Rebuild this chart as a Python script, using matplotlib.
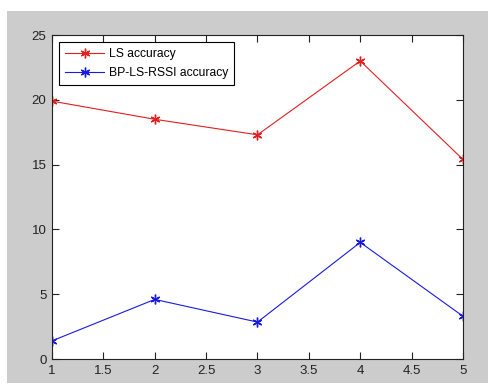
import matplotlib
matplotlib.use('Agg')
import matplotlib.pyplot as plt
from matplotlib.patches import Rectangle

x = [1, 2, 3, 4, 5]
ls_acc = [19.9, 18.5, 17.3, 23.0, 15.4]
bp_acc = [1.4, 4.6, 2.85, 9.0, 3.3]
labels = ['LS accuracy', 'BP-LS-RSSI accuracy']

plt.rcParams['font.family'] = ['Liberation Sans', 'DejaVu Sans']

fig = plt.figure(figsize=(4.89, 3.88), dpi=100, facecolor='white')
# MATLAB-style grey figure background, kept behind the axes
bg = Rectangle((0.0143, 0.0129), 0.9857, 0.9587, transform=fig.transFigure,
               facecolor='#cccccc', edgecolor='none', zorder=-10)
fig.add_artist(bg)

ax = fig.add_axes([0.1063, 0.0747, 0.8405, 0.835])
ax.set_facecolor('white')
# asterisk markers like MATLAB's '*'
star = (6, 2, 0)
ax.plot(x, ls_acc, '-', marker=star, color='#e02020', lw=0.8, ms=7,
        mew=1.0, label=labels[0])
ax.plot(x, bp_acc, '-', marker=star, color='#1a1ae0', lw=0.8, ms=7,
        mew=1.0, label=labels[1])

ax.set_xlim(1, 5)
ax.set_ylim(0, 25)
ax.set_xticks([1, 1.5, 2, 2.5, 3, 3.5, 4, 4.5, 5])
ax.set_xticklabels(['1', '1.5', '2', '2.5', '3', '3.5', '4', '4.5', '5'])
ax.set_yticks([0, 5, 10, 15, 20, 25])
ax.tick_params(direction='in', top=True, right=True, labelsize=9.5,
               length=5, width=0.8, colors='#222222', pad=4)
for s in ax.spines.values():
    s.set_linewidth(0.8)
    s.set_color('#222222')

leg = ax.legend(loc='upper left', fontsize=8.7, fancybox=False,
                edgecolor='black', framealpha=1, borderpad=0.5,
                handlelength=3.2, handletextpad=0.4, labelspacing=0.55,
                borderaxespad=0.6)
leg.get_frame().set_linewidth(0.8)

plt.savefig('out.png', dpi=100, facecolor=fig.get_facecolor())
plt.close()
